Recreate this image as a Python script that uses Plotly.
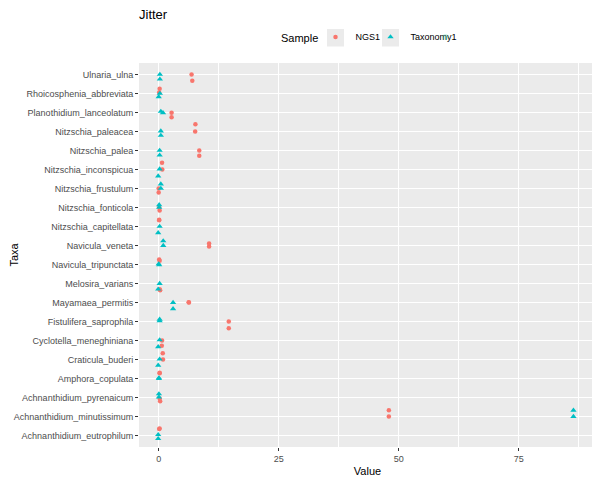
import plotly.graph_objects as go

taxa = ["Ulnaria_ulna", "Rhoicosphenia_abbreviata", "Planothidium_lanceolatum",
        "Nitzschia_paleacea", "Nitzschia_palea", "Nitzschia_inconspicua",
        "Nitzschia_frustulum", "Nitzschia_fonticola", "Nitzschia_capitellata",
        "Navicula_veneta", "Navicula_tripunctata", "Melosira_varians",
        "Mayamaea_permitis", "Fistulifera_saprophila", "Cyclotella_meneghiniana",
        "Craticula_buderi", "Amphora_copulata", "Achnanthidium_pyrenaicum",
        "Achnanthidium_minutissimum", "Achnanthidium_eutrophilum"]

# two replicate values per taxon
ngs1_a = [6.85, 0.2, 2.69, 7.65, 8.45, 0.7, 0.0, 0.2, 0.1, 10.5, 0.1, 0.3, 6.3, 14.6, 0.7, 0.85, 0.2, 0.3, 47.95, 0.2]
ngs1_b = [7.0, 0.1, 2.69, 7.6, 8.45, 0.75, 0.0, 0.1, 0.1, 10.5, 0.2, 0.2, 6.25, 14.6, 0.65, 0.9, 0.2, 0.2, 47.95, 0.1]
tax1_a = [0.25, 0.25, 0.45, 0.45, 0.2, 0.2, 0.45, 0.1, 0.2, 0.95, 0.0, 0.2, 3.0, 0.2, 0.2, 0.2, 0.05, 0.05, 86.4, -0.1]
tax1_b = [0.25, 0.0, 0.9, 0.45, 0.2, -0.1, 0.45, 0.1, -0.1, 0.95, 0.1, -0.1, 3.0, 0.2, -0.1, -0.1, 0.05, 0.05, 86.4, -0.1]

# vertical jitter (category units)
ngs1_jit_a = [0.0, 0.24, -0.02, 0.38, 0.0, 0.35, 0.0, -0.16, 0.35, 0.1, 0.26, -0.35, 0.0, 0.0, 0.0, 0.33, 0.3, -0.19, 0.33, 0.37]
ngs1_jit_b = [-0.33, 0.05, -0.25, 0.0, -0.28, 0.0, -0.21, 0.0, 0.33, -0.05, 0.2, -0.3, 0.02, -0.35, -0.27, 0.0, 0.28, -0.05, 0.0, 0.35]
tax1_jit_a = [0.0, 0.0, 0.05, 0.02, 0.0, 0.02, 0.23, 0.14, 0.0, 0.24, 0.03, 0.0, 0.0, 0.03, 0.03, 0.02, 0.03, 0.19, 0.33, 0.05]
tax1_jit_b = [-0.25, -0.18, -0.02, -0.21, -0.25, -0.35, 0.0, 0.0, -0.33, 0.0, -0.02, -0.3, -0.33, 0.12, -0.33, -0.3, 0.0, 0.03, 0.0, -0.16]

x_ticks = [0, 25, 50, 75]

n = len(taxa)
pos = [n - i for i in range(n)]

def pts(va, vb, ja, jb):
    xs, ys = [], []
    for p, a, b, c, d in zip(pos, va, vb, ja, jb):
        xs += [a, b]
        ys += [p + c, p + d]
    return xs, ys

# page body has an 8px margin: the figure spans 8..600 x 8..480
W, H = 592, 472
L, R, T, B = 131, 4, 55, 33
PW, PH = W - L - R, H - T - B

def px(page_x):   # page pixel -> paper x
    return (page_x - 8 - L) / PW

def py(page_y):   # page pixel -> paper y
    return 1 - (page_y - 8 - T) / PH

font = "Liberation Sans, Arial, sans-serif"
fig = go.Figure()
x1, y1 = pts(ngs1_a, ngs1_b, ngs1_jit_a, ngs1_jit_b)
x2, y2 = pts(tax1_a, tax1_b, tax1_jit_a, tax1_jit_b)
fig.add_trace(go.Scatter(x=x1, y=y1, mode="markers", name="NGS1",
                         marker=dict(symbol="circle", size=4.5, color="#F8766D")))
fig.add_trace(go.Scatter(x=x2, y=y2, mode="markers", name="Taxonomy1",
                         marker=dict(symbol="triangle-up", size=5.5, color="#00BFC4")))
# empty spacer entry so the last legend label is not clipped
fig.add_trace(go.Scatter(x=[None], y=[None], mode="markers", name=" ",
                         marker=dict(opacity=0), hoverinfo="skip"))

# legend key backgrounds (ggplot style)
for x0 in (327, 382):
    fig.add_shape(type="rect", xref="paper", yref="paper",
                  x0=px(x0), x1=px(x0 + 17), y0=py(46.5), y1=py(29),
                  fillcolor="#EBEBEB", line=dict(width=0), layer="below")

fig.add_annotation(text="Sample", xref="paper", yref="paper", x=px(320), y=py(38),
                   xanchor="right", yanchor="middle", showarrow=False,
                   font=dict(size=11, color="black"))

fig.update_layout(
    width=W, height=H,
    margin=dict(l=L, r=R, t=T, b=B, autoexpand=False),
    paper_bgcolor="white", plot_bgcolor="#EBEBEB",
    font=dict(family=font, color="black"),
    title=dict(text="Jitter", x=L / W, xanchor="left", xref="container",
               y=1 - 1.5 / H, yanchor="top", yref="container",
               font=dict(size=13, color="black")),
    legend=dict(orientation="h", x=px(315.5), xanchor="left", y=1.03, yanchor="bottom",
                font=dict(size=9), bgcolor="rgba(0,0,0,0)", entrywidth=10,
                itemsizing="trace"),
    xaxis=dict(range=[-4.1, 91.1], tickvals=x_ticks, showgrid=True, gridcolor="white",
               gridwidth=1.1, zeroline=False, ticks="outside", ticklen=3, tickcolor="#333333",
               tickfont=dict(size=9, color="#4D4D4D"),
               minor=dict(dtick=12.5, tick0=0, showgrid=True, gridcolor="white", gridwidth=0.5),
               title=dict(text="Value", font=dict(size=11), standoff=4)),
    yaxis=dict(range=[0.4, n + 0.6], tickvals=pos, ticktext=taxa, showgrid=True,
               gridcolor="white", gridwidth=1.1, zeroline=False, ticks="outside", ticklen=3,
               tickcolor="#333333", tickfont=dict(size=9, color="#4D4D4D"),
               title=dict(text="Taxa", font=dict(size=11), standoff=12)),
)

fig.write_html("out.html")
